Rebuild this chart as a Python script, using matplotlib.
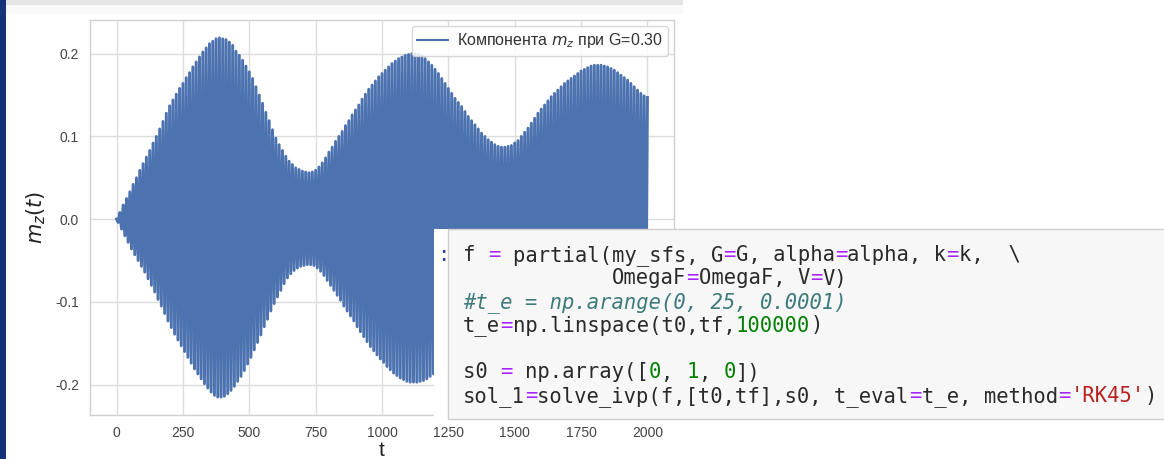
import numpy as np
import matplotlib
matplotlib.use('Agg')
import matplotlib.pyplot as plt
from matplotlib.patches import Rectangle

# ---------------- data ----------------
t_step = 12.5  # spacing of successive upper peaks of the fast oscillation

# upper peaks of m_z at t = 0, 12.5, 25, ... , 2000
upper_peaks = [
    0.000, 0.008, 0.017, 0.025, 0.033, 0.042, 0.050, 0.059,
    0.067, 0.075, 0.083, 0.092, 0.100, 0.109, 0.118, 0.128,
    0.137, 0.144, 0.151, 0.158, 0.164, 0.171, 0.177, 0.184,
    0.190, 0.196, 0.202, 0.207, 0.212, 0.215, 0.218, 0.219,
    0.218, 0.217, 0.214, 0.210, 0.203, 0.198, 0.192, 0.185,
    0.178, 0.170, 0.160, 0.150, 0.140, 0.129, 0.119, 0.108,
    0.098, 0.090, 0.083, 0.076, 0.070, 0.066, 0.062, 0.060,
    0.058, 0.057, 0.056, 0.057, 0.059, 0.063, 0.068, 0.074,
    0.081, 0.087, 0.094, 0.100, 0.106, 0.113, 0.119, 0.126,
    0.132, 0.138, 0.145, 0.151, 0.157, 0.162, 0.167, 0.172,
    0.176, 0.180, 0.184, 0.188, 0.191, 0.194, 0.196, 0.198,
    0.199, 0.200, 0.200, 0.199, 0.197, 0.194, 0.190, 0.186,
    0.181, 0.176, 0.170, 0.164, 0.158, 0.152, 0.146, 0.141,
    0.136, 0.130, 0.124, 0.119, 0.114, 0.109, 0.104, 0.100,
    0.096, 0.093, 0.090, 0.088, 0.087, 0.087, 0.088, 0.089,
    0.092, 0.095, 0.100, 0.105, 0.110, 0.116, 0.122, 0.128,
    0.133, 0.138, 0.143, 0.148, 0.152, 0.156, 0.160, 0.164,
    0.167, 0.170, 0.173, 0.176, 0.179, 0.181, 0.183, 0.185,
    0.186, 0.186, 0.186, 0.185, 0.184, 0.182, 0.180, 0.177,
    0.174, 0.171, 0.168, 0.164, 0.160, 0.156, 0.152, 0.149,
    0.147,
]

# lower peaks of m_z at t = 6.25, 18.75, ... , 1993.75
lower_peaks = [
    -0.004, -0.012, -0.020, -0.028, -0.036, -0.043, -0.050, -0.057,
    -0.064, -0.072, -0.080, -0.088, -0.097, -0.105, -0.114, -0.123,
    -0.131, -0.139, -0.146, -0.153, -0.160, -0.167, -0.174, -0.181,
    -0.187, -0.193, -0.199, -0.204, -0.209, -0.213, -0.215, -0.215,
    -0.214, -0.211, -0.207, -0.202, -0.196, -0.190, -0.183, -0.175,
    -0.167, -0.158, -0.149, -0.140, -0.130, -0.121, -0.111, -0.102,
    -0.094, -0.086, -0.078, -0.071, -0.066, -0.062, -0.059, -0.057,
    -0.056, -0.055, -0.055, -0.056, -0.059, -0.063, -0.068, -0.074,
    -0.080, -0.086, -0.092, -0.098, -0.105, -0.111, -0.117, -0.123,
    -0.130, -0.136, -0.142, -0.148, -0.154, -0.159, -0.164, -0.169,
    -0.173, -0.178, -0.182, -0.186, -0.189, -0.192, -0.194, -0.196,
    -0.197, -0.197, -0.197, -0.196, -0.195, -0.193, -0.190, -0.187,
    -0.182, -0.177, -0.171, -0.165, -0.159, -0.153, -0.147, -0.141,
    -0.135, -0.129, -0.123, -0.118, -0.113, -0.108, -0.103, -0.099,
    -0.095, -0.092, -0.089, -0.087, -0.086, -0.086, -0.087, -0.088,
    -0.091, -0.095, -0.099, -0.104, -0.109, -0.115, -0.121, -0.127,
    -0.132, -0.137, -0.142, -0.147, -0.151, -0.155, -0.159, -0.163,
    -0.166, -0.169, -0.172, -0.175, -0.178, -0.180, -0.182, -0.184,
    -0.185, -0.185, -0.185, -0.184, -0.183, -0.181, -0.179, -0.176,
    -0.173, -0.170, -0.166, -0.162, -0.158, -0.154, -0.150, -0.147,
]

x_ticks = [0, 250, 500, 750, 1000, 1250, 1500, 1750, 2000]
y_ticks = [-0.2, -0.1, 0.0, 0.1, 0.2]
x_label = 't'
y_label = '$m_z(t)$'
legend_label = 'Компонента $m_z$ при G=0.30'

# code cell shown over the chart: (text, style) tokens per line
code_lines = [
    [("f ", "n"), ("=", "o"), (" partial(my_sfs, G", "n"), ("=", "o"), ("G, alpha", "n"),
     ("=", "o"), ("alpha, k", "n"), ("=", "o"), ("k,  \\", "n")],
    [("            OmegaF", "n"), ("=", "o"), ("OmegaF, V", "n"), ("=", "o"), ("V)", "n")],
    [("#t_e = np.arange(0, 25, 0.0001)", "c")],
    [("t_e", "n"), ("=", "o"), ("np.linspace(t0,tf,", "n"), ("100000", "d"), (")", "n")],
    [],
    [("s0 ", "n"), ("=", "o"), (" np.array([", "n"), ("0", "d"), (", ", "n"), ("1", "d"),
     (", ", "n"), ("0", "d"), ("])", "n")],
    [("sol_1", "n"), ("=", "o"), ("solve_ivp(f,[t0,tf],s0, t_eval", "n"), ("=", "o"),
     ("t_e, method", "n"), ("=", "o"), ("'RK45'", "s"), (")", "n")],
]

# ---------------- styling ----------------
W, H = 1164, 459
BLUE = '#4c72b0'
plt.rcParams['font.family'] = ['Liberation Sans', 'DejaVu Sans']
plt.rcParams['axes.unicode_minus'] = False

fig = plt.figure(figsize=(W / 100, H / 100), dpi=100)
fig.patch.set_facecolor('white')


def fx(x):
    return x / W


def fy(y):
    return 1 - y / H


ax = fig.add_axes([fx(90), fy(415), (674 - 90) / W, (415 - 20) / H])

t_up = np.arange(len(upper_peaks)) * t_step
t_lo = np.arange(len(lower_peaks)) * t_step + t_step / 2
t_all = np.empty(len(t_up) + len(t_lo))
m_all = np.empty(len(t_up) + len(t_lo))
t_all[0::2] = t_up
t_all[1::2] = t_lo
m_all[0::2] = upper_peaks
m_all[1::2] = lower_peaks

ax.plot(t_all, m_all, color=BLUE, lw=2.1, label=legend_label)

ax.set_xticks(x_ticks)
ax.set_yticks(y_ticks)
ax.set_xlim(-100, 2100)
ax.set_ylim(-0.2367, 0.2407)
ax.grid(True, color='#dcdcdc', lw=1.0)
ax.set_axisbelow(True)
for s in ax.spines.values():
    s.set_color('#d0d0d0')
    s.set_linewidth(1.0)
ax.tick_params(length=0, pad=8, labelsize=10, labelcolor='#444444')
ax.set_xlabel(x_label, fontsize=15, color='#222222', labelpad=1)
ax.set_ylabel(y_label, fontsize=15, color='#222222', labelpad=5)

leg = ax.legend(loc='upper right', fontsize=11.5, frameon=True, fancybox=True,
                handlelength=1.9, handletextpad=0.6, borderpad=0.35,
                borderaxespad=0.35)
leg.legend_handles[0].set_linewidth(1.5)
leg.get_frame().set_edgecolor('#d0d0d0')
leg.get_frame().set_facecolor('white')
leg.get_frame().set_alpha(0.85)
for txt in leg.get_texts():
    txt.set_color('#333333')

# ---------------- screenshot decorations ----------------
fig.patches.append(Rectangle((0, 0), fx(6), 1, transform=fig.transFigure,
                             facecolor='#14337a', edgecolor='none', zorder=5))
fig.patches.append(Rectangle((fx(6), fy(5)), fx(683) - fx(6), fy(0) - fy(5),
                             transform=fig.transFigure, facecolor='#e4e4e4',
                             edgecolor='none', zorder=5))
fig.patches.append(Rectangle((fx(6), fy(14)), fx(683) - fx(6), fy(5) - fy(14),
                             transform=fig.transFigure, facecolor='#f8f8f8',
                             edgecolor='none', zorder=5))
# prompt strip (white) and code box
fig.patches.append(Rectangle((fx(434), fy(419)), fx(448) - fx(434), fy(229) - fy(419),
                             transform=fig.transFigure, facecolor='white',
                             edgecolor='none', zorder=5))
fig.patches.append(Rectangle((fx(448), fy(419)), fx(1170) - fx(448), fy(229) - fy(419),
                             transform=fig.transFigure, facecolor='#f7f7f7',
                             edgecolor='#cfcfcf', lw=1.0, zorder=5))

fig.text(fx(437), fy(261), ':', color='#303f9f', fontsize=14.8,
         family='DejaVu Sans Mono', va='baseline', ha='left', zorder=6)

colors = {'n': '#2a2a2a', 'o': '#aa22ff', 'd': '#008000', 'c': '#3d7b7b', 's': '#ba2121'}
char_w = 12.4
x0 = 463
y_base0 = 261
line_h = 23.5
for i, toks in enumerate(code_lines):
    col = 0
    yb = y_base0 + i * line_h
    for text, style in toks:
        stripped = text.lstrip(' ')
        lead = len(text) - len(stripped)
        if stripped:
            fig.text(fx(x0 + (col + lead) * char_w), fy(yb), stripped,
                     color=colors[style], fontsize=14.8, family='DejaVu Sans Mono',
                     style='italic' if style == 'c' else 'normal',
                     va='baseline', ha='left', zorder=6)
        col += len(text)

fig.savefig('out.png', dpi=100)
